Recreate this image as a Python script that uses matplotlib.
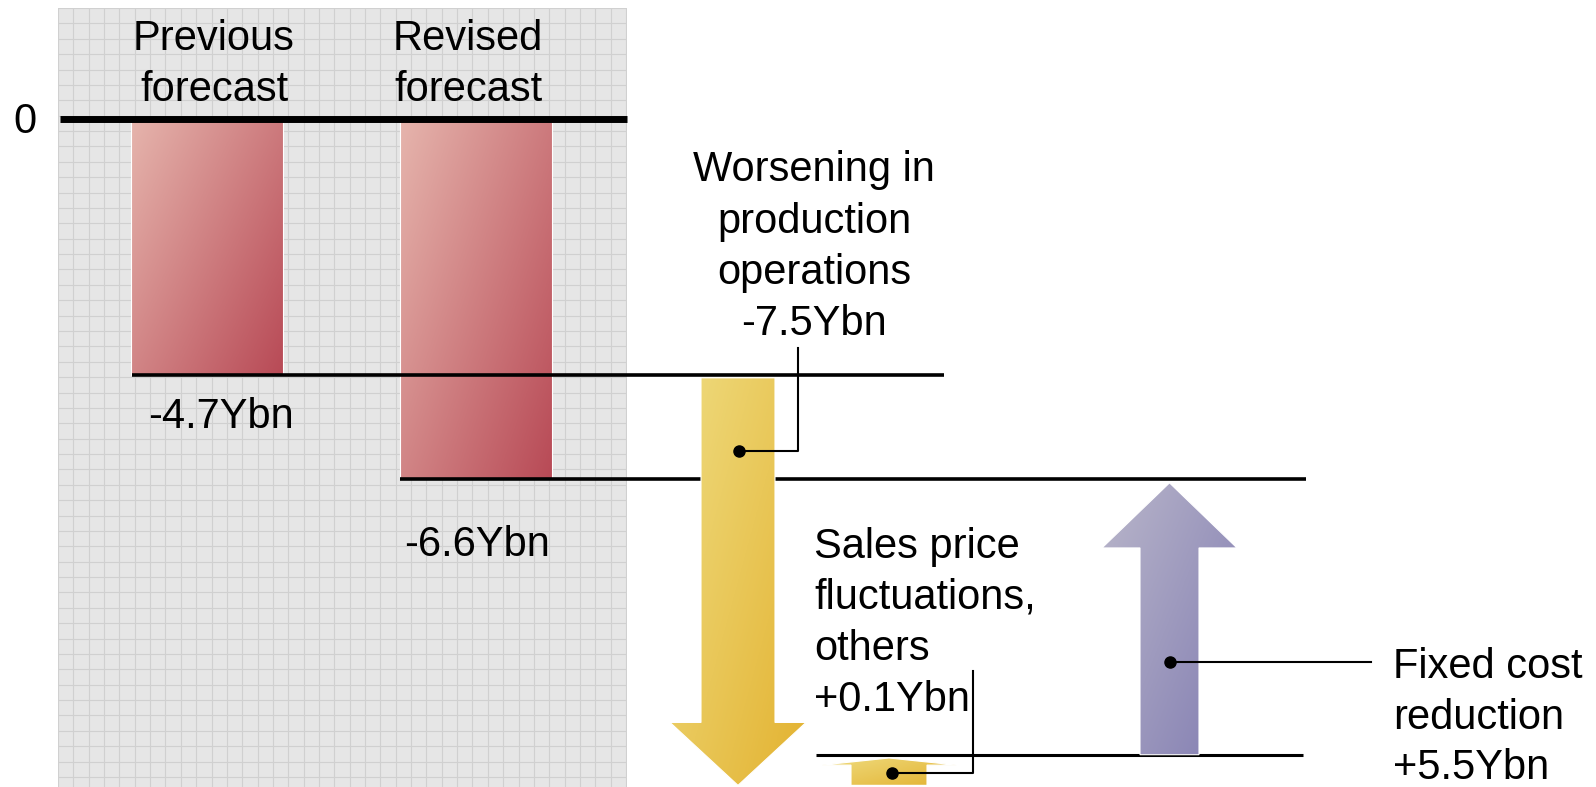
import numpy as np
import matplotlib
matplotlib.use("Agg")
import matplotlib.pyplot as plt
from matplotlib.patches import Polygon
from matplotlib.colors import LinearSegmentedColormap
from matplotlib.ticker import MultipleLocator

plt.rcParams['font.family'] = ['Liberation Sans', 'DejaVu Sans']
FS = 30
LS = 1.36

# forecast totals (Ybn)
forecast_labels = ["Previous\nforecast", "Revised\nforecast"]
forecast_values = [-4.7, -6.6]

# change factors between the two forecasts (Ybn)
factor_labels = ["Worsening in\nproduction\noperations",
                 "Sales price\nfluctuations,\nothers",
                 "Fixed cost\nreduction"]
factor_values = [-7.5, 0.1, 5.5]

fmt = lambda v: "{:+.1f}Ybn".format(v) if v > 0 else "{:.1f}Ybn".format(v)

# pixel <-> value scale of the sketch
PX_PER_UNIT = 54.7
ZERO_PX = 118
W, H = 1596, 787

def gradient_poly(ax, verts, c0, c1, z):
    poly = Polygon(verts, closed=True, facecolor='none', edgecolor='white', lw=0.8, zorder=z + 0.1)
    ax.add_patch(poly)
    xs = [v[0] for v in verts]
    ys = [v[1] for v in verts]
    u = np.linspace(0, 1, 200)
    U, V = np.meshgrid(u, u)
    t = 0.55 * U + 0.45 * V
    cmap = LinearSegmentedColormap.from_list("g", [c0, c1])
    im = ax.imshow(t, cmap=cmap, extent=(min(xs), max(xs), min(ys), max(ys)),
                   origin='upper', aspect='auto', interpolation='bilinear', zorder=z)
    im.set_clip_path(poly)

def arrow_verts(xc, y_start, y_end, shaft_w, head_w, head_len):
    d = np.sign(y_end - y_start)
    yb = y_end - d * head_len
    return [(xc - shaft_w / 2, y_start), (xc + shaft_w / 2, y_start),
            (xc + shaft_w / 2, yb), (xc + head_w / 2, yb), (xc, y_end),
            (xc - head_w / 2, yb), (xc - shaft_w / 2, yb)]

fig = plt.figure(figsize=(W / 100, H / 100), dpi=100, facecolor='white')

# gray grid paper behind the forecast bars
bg = fig.add_axes([58 / W, 0, 569 / W, 779 / H])
bg.set_facecolor('#e6e6e6')
bg.set_xlim(0, 569)
bg.set_ylim(779, 0)
bg.xaxis.set_major_locator(MultipleLocator(15.35))
bg.yaxis.set_major_locator(MultipleLocator(15.38))
bg.grid(True, color='#d0d0d0', lw=0.8)
bg.tick_params(length=0, labelbottom=False, labelleft=False)
for s in bg.spines.values():
    s.set_visible(False)

ax = fig.add_axes([0, 0, 1, 1])
ax.set_facecolor('none')
ax.axis('off')

# bars
bar_x = [131, 400]
bar_w = 152
for x, v in zip(bar_x, forecast_values):
    gradient_poly(ax, [(x, 0), (x + bar_w, 0), (x + bar_w, v), (x, v)], '#e6b5ad', '#b84a56', 2)

label_x = [214, 468]
for x, lab in zip(label_x, forecast_labels):
    ax.text(x, 0.98, lab, ha='center', va='center', fontsize=FS, linespacing=LS, zorder=5)

ax.hlines(-0.02, 60, 627, color='black', lw=5, zorder=4)
ax.text(25, -0.08, "0", ha='center', va='center', fontsize=FS)

# waterfall levels
prev, rev = forecast_values
lvl1 = prev + factor_values[0]
MIN_DRAW = 0.5  # small changes are drawn at a minimum height to stay visible
lvl2 = lvl1 + max(abs(factor_values[1]), MIN_DRAW)

ax.hlines(prev, 132, 944, color='black', lw=2.6, zorder=3)
ax.hlines(rev, 400, 1306, color='black', lw=2.6, zorder=3)
ax.hlines(lvl2 + 0.06, 816, 1303, color='black', lw=2.2, zorder=3)

ax.text(148, prev - 0.76, fmt(prev), ha='left', va='center', fontsize=FS)
ax.text(404, rev - 1.21, fmt(rev), ha='left', va='center', fontsize=FS)

# worsening arrow (down)
gradient_poly(ax, arrow_verts(738, prev - 0.05, lvl1, 74, 136, 1.15), '#efdc80', '#e3b230', 6)
# sales price arrow (small, up)
gradient_poly(ax, arrow_verts(889, lvl1, lvl2, 76, 135, 0.13), '#efdc80', '#e3b230', 6)
# fixed cost arrow (up)
gradient_poly(ax, arrow_verts(1169.5, lvl2 + 0.06, rev - 0.07, 59, 135, 1.19), '#b9b6ca', '#837eb2', 6)

# leaders
lk = dict(color='black', lw=1.5, zorder=8)
ax.plot([739, 798, 798], [-6.09, -6.09, -4.20], **lk)
ax.plot([739], [-6.09], 'o', color='black', ms=8, zorder=9)
ax.plot([892, 973, 973], [-11.97, -11.97, -10.11], **lk)
ax.plot([892], [-11.97], 'o', color='black', ms=8, zorder=9)
ax.plot([1170, 1371], [-9.94, -9.94], **lk)
ax.plot([1170], [-9.94], 'o', color='black', ms=8, zorder=9)

ax.text(814, -2.36, factor_labels[0] + "\n" + fmt(factor_values[0]), ha='center', va='center',
        fontsize=FS, linespacing=LS)
ax.text(814, -9.24, factor_labels[1] + "\n" + fmt(factor_values[1]), ha='left', va='center',
        fontsize=FS, linespacing=LS)
ax.text(1393, -10.96, factor_labels[2] + "\n" + fmt(factor_values[2]), ha='left', va='center',
        fontsize=FS, linespacing=1.33)

ax.set_xlim(0, W)
ax.set_ylim(-(H - ZERO_PX) / PX_PER_UNIT, ZERO_PX / PX_PER_UNIT)

fig.savefig("out.png", dpi=100)
